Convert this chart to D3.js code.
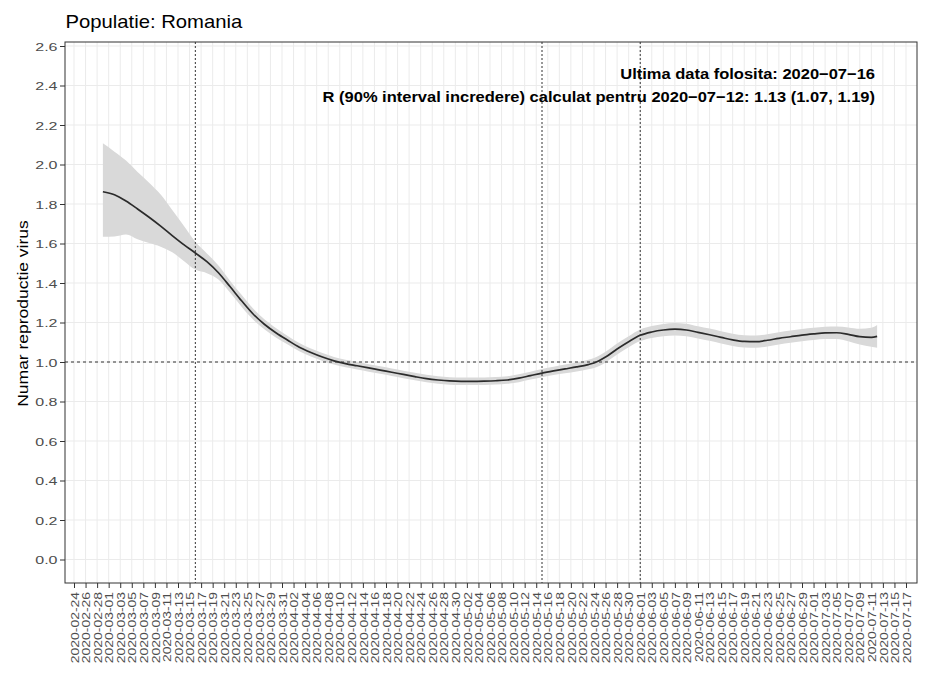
<!DOCTYPE html>
<html>
<head>
<meta charset="utf-8">
<script src="https://cdn.jsdelivr.net/npm/d3@7"></script>
<style>
  html, body { margin: 0; padding: 0; background: #ffffff; }
  svg { display: block; font-family: "Liberation Sans", Arial, sans-serif; }
</style>
</head>
<body>
<svg id="canvas"></svg>
<script>
"use strict";

// Chart data
const dates = [
    "2020-02-29", "2020-03-02", "2020-03-04", "2020-03-06", "2020-03-08", "2020-03-10",
    "2020-03-12", "2020-03-14", "2020-03-16", "2020-03-18", "2020-03-20", "2020-03-22",
    "2020-03-24", "2020-03-26", "2020-03-28", "2020-03-30", "2020-04-01", "2020-04-03",
    "2020-04-05", "2020-04-07", "2020-04-09", "2020-04-11", "2020-04-13", "2020-04-15",
    "2020-04-17", "2020-04-19", "2020-04-21", "2020-04-23", "2020-04-25", "2020-04-27",
    "2020-04-29", "2020-05-01", "2020-05-03", "2020-05-05", "2020-05-07", "2020-05-09",
    "2020-05-11", "2020-05-13", "2020-05-15", "2020-05-17", "2020-05-19", "2020-05-21",
    "2020-05-23", "2020-05-24", "2020-05-26", "2020-05-28", "2020-05-30", "2020-06-01",
    "2020-06-03", "2020-06-05", "2020-06-07", "2020-06-09", "2020-06-11", "2020-06-13",
    "2020-06-15", "2020-06-17", "2020-06-19", "2020-06-21", "2020-06-23", "2020-06-25",
    "2020-06-27", "2020-06-29", "2020-07-01", "2020-07-03", "2020-07-05", "2020-07-07",
    "2020-07-09", "2020-07-11", "2020-07-12"
];
const rMedian = [
    1.862, 1.847, 1.815, 1.775, 1.733, 1.688,
    1.640, 1.594, 1.552, 1.508, 1.452, 1.382,
    1.310, 1.243, 1.190, 1.147, 1.110, 1.075,
    1.048, 1.025, 1.006, 0.992, 0.981, 0.970,
    0.959, 0.948, 0.937, 0.926, 0.916, 0.909,
    0.904, 0.902, 0.902, 0.903, 0.905, 0.909,
    0.918, 0.931, 0.944, 0.955, 0.965, 0.975,
    0.987, 0.995, 1.025, 1.066, 1.103, 1.135,
    1.152, 1.162, 1.166, 1.162, 1.150, 1.138,
    1.125, 1.112, 1.104, 1.103, 1.110, 1.120,
    1.128, 1.136, 1.142, 1.147, 1.148, 1.140,
    1.128, 1.125, 1.130
];
const rLower = [
    1.634, 1.636, 1.646, 1.622, 1.602, 1.584,
    1.556, 1.512, 1.468, 1.450, 1.418, 1.352,
    1.280, 1.215, 1.165, 1.123, 1.088, 1.054,
    1.028, 1.005, 0.987, 0.973, 0.962, 0.951,
    0.940, 0.929, 0.918, 0.907, 0.897, 0.890,
    0.885, 0.883, 0.883, 0.884, 0.886, 0.890,
    0.898, 0.911, 0.923, 0.934, 0.943, 0.952,
    0.963, 0.970, 0.998, 1.038, 1.075, 1.106,
    1.122, 1.131, 1.134, 1.130, 1.119, 1.107,
    1.094, 1.081, 1.073, 1.072, 1.079, 1.089,
    1.097, 1.105, 1.111, 1.116, 1.116, 1.105,
    1.088, 1.077, 1.072
];
const rUpper = [
    2.107, 2.065, 2.020, 1.962, 1.908, 1.848,
    1.770, 1.690, 1.609, 1.550, 1.488, 1.412,
    1.340, 1.271, 1.215, 1.171, 1.132, 1.096,
    1.068, 1.045, 1.025, 1.011, 1.000, 0.989,
    0.978, 0.967, 0.956, 0.945, 0.935, 0.928,
    0.923, 0.921, 0.921, 0.922, 0.924, 0.928,
    0.938, 0.951, 0.965, 0.976, 0.987, 0.998,
    1.011, 1.020, 1.052, 1.094, 1.131, 1.165,
    1.182, 1.193, 1.198, 1.194, 1.181, 1.169,
    1.156, 1.143, 1.135, 1.134, 1.141, 1.151,
    1.159, 1.167, 1.173, 1.178, 1.180, 1.175,
    1.168, 1.173, 1.187
];

// Axis ticks and reference lines
const xTickFirst = "2020-02-24";
const xTickLast = "2020-07-17";
const xTickStepDays = 2;
const yTicks = [0.0, 0.2, 0.4, 0.6, 0.8, 1.0, 1.2, 1.4, 1.6, 1.8, 2.0, 2.2, 2.4, 2.6];
const eventDates = ["2020-03-16", "2020-05-15", "2020-06-01"];
const thresholdR = 1.0;

// Texts
const chartTitle = "Populatie: Romania";
const yAxisTitle = "Numar reproductie virus";
const noteLines = [
    "Ultima data folosita: 2020\u221207\u221216",
    "R (90% interval incredere) calculat pentru 2020\u221207\u221212: 1.13 (1.07, 1.19)"
];

// Canvas and panel geometry
const canvasWidth = 941;
const canvasHeight = 685;
const panel = { left: 65, right: 917, top: 42, bottom: 583 };

const parseDate = d3.utcParse("%Y-%m-%d");
const series = dates.map((d, i) => ({
    date: parseDate(d),
    r: rMedian[i],
    lo: rLower[i],
    hi: rUpper[i]
}));

const canvas = d3.select("#canvas")
    .attr("width", canvasWidth)
    .attr("height", canvasHeight);

// Scales
const x = d3.scaleUtc()
    .domain([parseDate(xTickFirst), parseDate(xTickLast)])
    .range([74, 906]);

const y = d3.scaleLinear()
    .domain([0, 2.6])
    .range([559.5, 46]);

const xTicks = d3.utcDay.range(parseDate(xTickFirst), d3.utcDay.offset(parseDate(xTickLast), 1), xTickStepDays);

// Panel grid
const grid = canvas.append("g");

grid.selectAll("line.vgrid")
    .data(xTicks)
    .enter()
    .append("line")
    .attr("class", "vgrid")
    .attr("x1", d => x(d))
    .attr("x2", d => x(d))
    .attr("y1", panel.top)
    .attr("y2", panel.bottom)
    .attr("stroke", "#ebebeb")
    .attr("stroke-width", 1);

grid.selectAll("line.hgrid")
    .data(yTicks)
    .enter()
    .append("line")
    .attr("class", "hgrid")
    .attr("x1", panel.left)
    .attr("x2", panel.right)
    .attr("y1", d => y(d))
    .attr("y2", d => y(d))
    .attr("stroke", "#ebebeb")
    .attr("stroke-width", 1);

// Confidence ribbon
const area = d3.area()
    .x(d => x(d.date))
    .y0(d => y(d.lo))
    .y1(d => y(d.hi))
    .curve(d3.curveMonotoneX);

canvas.append("path")
    .datum(series)
    .attr("fill", "#d9d9d9")
    .attr("d", area);

// Median line
const line = d3.line()
    .x(d => x(d.date))
    .y(d => y(d.r))
    .curve(d3.curveMonotoneX);

canvas.append("path")
    .datum(series)
    .attr("fill", "none")
    .attr("stroke", "#2b2b2b")
    .attr("stroke-width", 1.7)
    .attr("d", line);

// Reference lines
canvas.selectAll("line.event")
    .data(eventDates.map(parseDate))
    .enter()
    .append("line")
    .attr("class", "event")
    .attr("x1", d => x(d))
    .attr("x2", d => x(d))
    .attr("y1", panel.top)
    .attr("y2", panel.bottom)
    .attr("stroke", "#333333")
    .attr("stroke-width", 1)
    .attr("stroke-dasharray", "2,2");

canvas.append("line")
    .attr("x1", panel.left)
    .attr("x2", panel.right)
    .attr("y1", y(thresholdR))
    .attr("y2", y(thresholdR))
    .attr("stroke", "#333333")
    .attr("stroke-width", 1)
    .attr("stroke-dasharray", "3,3");

// Panel border
canvas.append("rect")
    .attr("x", panel.left)
    .attr("y", panel.top)
    .attr("width", panel.right - panel.left)
    .attr("height", panel.bottom - panel.top)
    .attr("fill", "none")
    .attr("stroke", "#333333")
    .attr("stroke-width", 1);

// X axis
const xAxis = canvas.append("g")
    .attr("transform", `translate(0,${panel.bottom})`)
    .call(d3.axisBottom(x)
        .tickValues(xTicks)
        .tickSize(5)
        .tickFormat(d3.utcFormat("%Y-%m-%d")));

xAxis.select(".domain").remove();
xAxis.selectAll(".tick line").attr("stroke", "#333333");
xAxis.selectAll(".tick text")
    .attr("x", 0)
    .attr("y", 0)
    .attr("dy", "0.36em")
    .attr("text-anchor", "end")
    .attr("transform", "translate(0,9) rotate(-90) scale(1.2,1)")
    .attr("fill", "#4d4d4d")
    .style("font-size", "11.6px")
    .style("font-family", "\"Liberation Sans\", Arial, sans-serif");

// Y axis
const yAxis = canvas.append("g")
    .attr("transform", `translate(${panel.left},0)`)
    .call(d3.axisLeft(y)
        .tickValues(yTicks)
        .tickSize(5)
        .tickFormat(d3.format(".1f")));

yAxis.select(".domain").remove();
yAxis.selectAll(".tick line").attr("stroke", "#333333");
yAxis.selectAll(".tick text")
    .attr("x", 0)
    .attr("dy", "0.35em")
    .attr("text-anchor", "end")
    .attr("transform", "translate(-7.5,0) scale(1.38,1)")
    .attr("fill", "#4d4d4d")
    .style("font-size", "11.6px")
    .style("font-family", "\"Liberation Sans\", Arial, sans-serif");

// Y axis title
canvas.append("text")
    .text(yAxisTitle)
    .attr("text-anchor", "middle")
    .attr("fill", "#000000")
    .style("font-size", "14px")
    .attr("transform", `translate(28.3,${(panel.top + panel.bottom) / 2 + 1}) rotate(-90) scale(1.25,1)`);

// Chart title
canvas.append("text")
    .text(chartTitle)
    .attr("fill", "#000000")
    .style("font-size", "18.6px")
    .attr("transform", "translate(65.5,28) scale(1.09,1)");

// Annotation lines
canvas.selectAll("text.note")
    .data(noteLines)
    .enter()
    .append("text")
    .attr("class", "note")
    .text(d => d)
    .attr("text-anchor", "end")
    .attr("fill", "#000000")
    .style("font-size", "15px")
    .style("font-weight", "bold")
    .attr("transform", (d, i) => `translate(875,${79 + i * 22.7}) scale(1.1,1)`);
</script>
</body>
</html>
